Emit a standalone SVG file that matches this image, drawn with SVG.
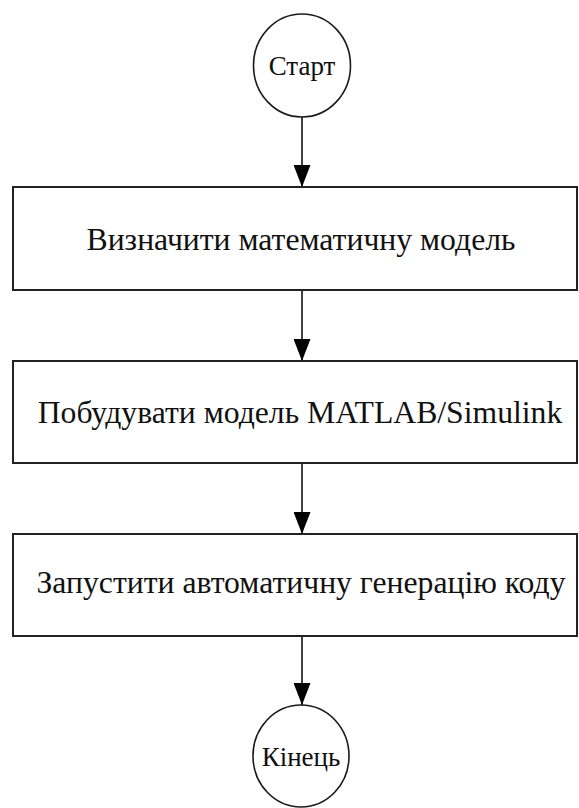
<svg xmlns="http://www.w3.org/2000/svg" width="579" height="808" viewBox="0 0 579 808">
<style>
  .box { fill: #ffffff; stroke: #222222; stroke-width: 2; }
  .term { fill: #ffffff; stroke: #1a1a1a; stroke-width: 1.6; }
  .lbl { font-family: "Liberation Serif", "Times New Roman", "DejaVu Serif", serif; font-size: 31.7px; fill: #111111; text-anchor: middle; }
  .tlbl { font-family: "Liberation Serif", "Times New Roman", "DejaVu Serif", serif; font-size: 27px; fill: #111111; text-anchor: middle; }
  .conn { stroke: #111111; stroke-width: 1.6; fill: none; marker-end: url(#arrow); }
</style>
<defs>
  <marker id="arrow" markerUnits="userSpaceOnUse" markerWidth="22" markerHeight="17" refX="22" refY="8.5" orient="auto" viewBox="0 0 22 17">
    <path d="M0,0 L22,8.5 L0,17 Z" fill="#000000"/>
  </marker>
</defs>
<rect width="579" height="808" fill="#ffffff"/>
<g id="connectors">
  <line class="conn" x1="302" y1="117" x2="302" y2="187"/>
  <line class="conn" x1="302" y1="290" x2="302" y2="361"/>
  <line class="conn" x1="302" y1="463" x2="302" y2="534"/>
  <line class="conn" x1="302" y1="636" x2="302" y2="705"/>
</g>
<g id="start">
  <ellipse class="term" cx="302" cy="65.5" rx="48.5" ry="51.5"/>
  <text class="tlbl" x="302" y="75">Старт</text>
</g>
<g id="step1">
  <rect class="box" x="13" y="187" width="564" height="103"/>
  <text class="lbl" x="301" y="250">Визначити математичну модель</text>
</g>
<g id="step2">
  <rect class="box" x="13" y="361" width="564" height="102"/>
  <text class="lbl" x="300" y="422.5">Побудувати модель MATLAB/Simulink</text>
</g>
<g id="step3">
  <rect class="box" x="13" y="534" width="564" height="102"/>
  <text class="lbl" x="301" y="593">Запустити автоматичну генерацію коду</text>
</g>
<g id="end">
  <ellipse class="term" cx="301" cy="756" rx="48" ry="51"/>
  <text class="tlbl" x="301" y="766">Кінець</text>
</g>
</svg>
